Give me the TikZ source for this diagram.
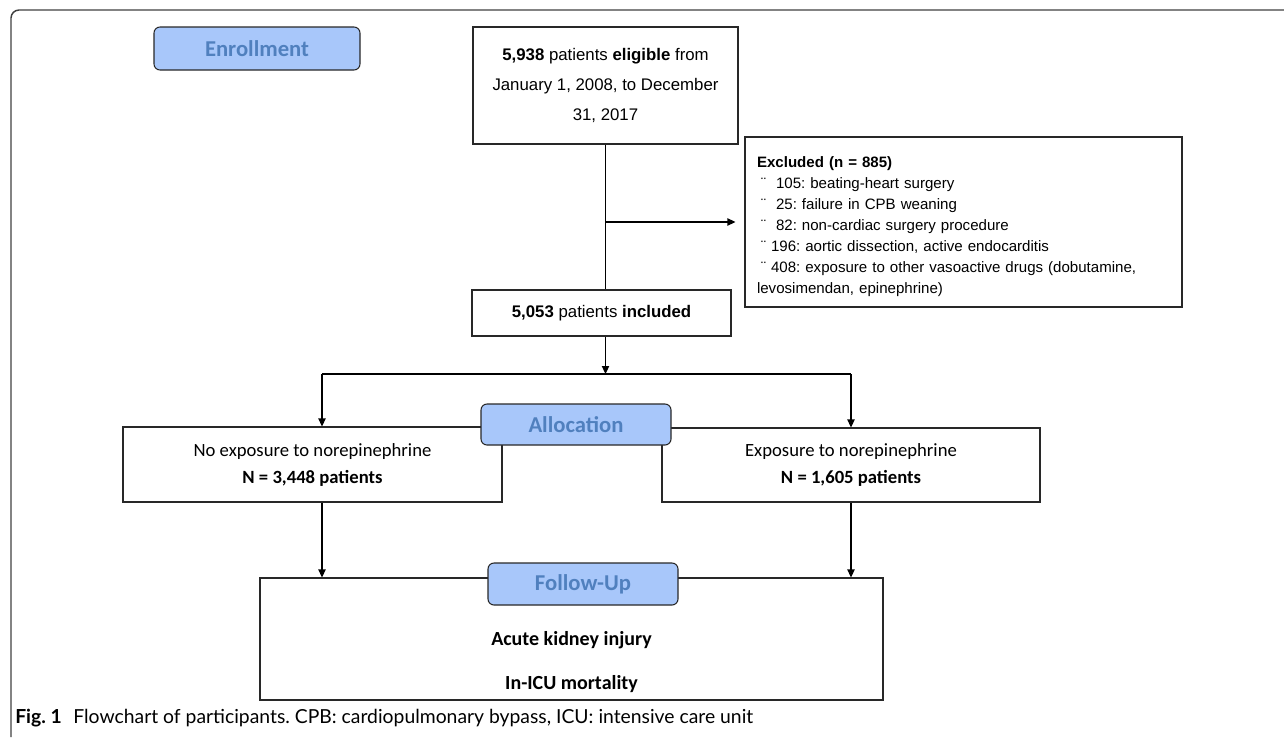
\documentclass[tikz,border=0pt]{standalone}
\usepackage{fontspec}
\setmainfont{Liberation Sans}
\newfontfamily\calfont{Carlito}
\newfontfamily\capfont{Lato}
\usetikzlibrary{arrows.meta,calc}
\definecolor{lblfill}{RGB}{168,199,250}
\definecolor{lbltext}{RGB}{80,128,190}
\definecolor{edge}{RGB}{40,40,40}
\def\u{0.75pt}
\frenchspacing
\begin{document}
\frenchspacing
\begin{tikzpicture}[x=0.75pt,y=-0.75pt,
  box/.style={draw=edge,line width=0.8pt,fill=white,inner sep=0pt,align=center},
  lbl/.style={draw=edge,line width=0.8pt,fill=lblfill,rounded corners=4.5pt,text=lbltext,font=\calfont\bfseries\fontsize{17}{20}\selectfont,inner sep=0pt},
  conn/.style={draw=black,line width=0.8pt},
  arr/.style={conn,-{Triangle[length=6pt,width=5.5pt]}},
]
\useasboundingbox (0,0) rectangle (1284,739);
\draw[draw=black!75,line width=1.1pt,rounded corners=6pt] (11,737) -- (11,10) -- (1290,10);

\node[box,minimum width=265*\u,minimum height=117*\u,font=\fontsize{12.6}{22.5}\selectfont] (top) at (605.5,85.5)
  {\textbf{5,938} patients \textbf{eligible} from\\January 1, 2008, to December\\31, 2017};

\node[box,align=left,inner xsep=12*\u,inner ysep=0pt,text width=413*\u,minimum height=170*\u,font=\fontsize{11.3}{15.75}\selectfont] (excl) at (963.5,222)
  {\rule{0pt}{15pt}\textbf{Excluded (n = 885)}\\
   \hspace*{3pt}¨\hspace{7.5pt}105: beating-heart surgery\\
   \hspace*{3pt}¨\hspace{7.5pt}25: failure in CPB weaning\\
   \hspace*{3pt}¨\hspace{7.5pt}82: non-cardiac surgery procedure\\
   \hspace*{3pt}¨\hspace{3.75pt}196: aortic dissection, active endocarditis\\
   \hspace*{3pt}¨\hspace{3.75pt}408: exposure to other vasoactive drugs (dobutamine,\\
   levosimendan, epinephrine)};

\node[box,minimum width=259*\u,minimum height=46*\u,font=\fontsize{12.6}{15}\selectfont] (incl) at (601.5,313)
  {\textbf{5,053} patients \textbf{included}};

\node[box,minimum width=379*\u,minimum height=75*\u,font=\calfont\fontsize{14}{20.25}\selectfont] (noexp) at (312.5,464.5)
  {No exposure to norepinephrine\\\textbf{N = 3,448 patients}};

\node[box,minimum width=378*\u,minimum height=74*\u,font=\calfont\fontsize{14}{20.25}\selectfont] (exp) at (851,465)
  {Exposure to norepinephrine\\\textbf{N = 1,605 patients}};

\node[box,minimum width=623*\u,minimum height=122*\u] (fu) at (571.5,639) {};
\node[align=center,inner sep=0pt,font=\calfont\bfseries\fontsize{15}{33}\selectfont] (futext) at (571.5,662)
  {Acute kidney injury\\In-ICU mortality};

\coordinate (split) at (605.5,374);
\coordinate (lsplit) at (322,374);
\coordinate (rsplit) at (851,374);

\draw[conn] (top.south) -- (top.south |- incl.north);
\draw[arr,shorten >=6.75pt] (top.south |- excl.west) -- (excl.west);
\draw[arr] (top.south |- incl.south) -- (split);
\draw[conn] (lsplit) -- (rsplit);
\draw[arr] (lsplit) -- (lsplit |- noexp.north);
\draw[arr] (rsplit) -- (exp.north);
\draw[arr] (lsplit |- noexp.south) -- (lsplit |- fu.north);
\draw[arr] (exp.south) -- (exp.south |- fu.north);

\node[lbl,minimum width=206*\u,minimum height=43*\u] (enroll) at (257,48.5) {Enrollment};
\node[lbl,minimum width=190*\u,minimum height=41*\u] (alloc) at (576,424.5) {Allocation};
\node[lbl,minimum width=190*\u,minimum height=42*\u] (fulbl) at (583,584) {Follow-Up};

\node[anchor=west,inner sep=0pt,font=\capfont\fontsize{14.5}{17}\selectfont] (cap) at (15,718)
  {\textbf{Fig. 1}\hspace{0.6em}Flowchart of participants. CPB: cardiopulmonary bypass, ICU: intensive care unit};
\end{tikzpicture}
\end{document}
